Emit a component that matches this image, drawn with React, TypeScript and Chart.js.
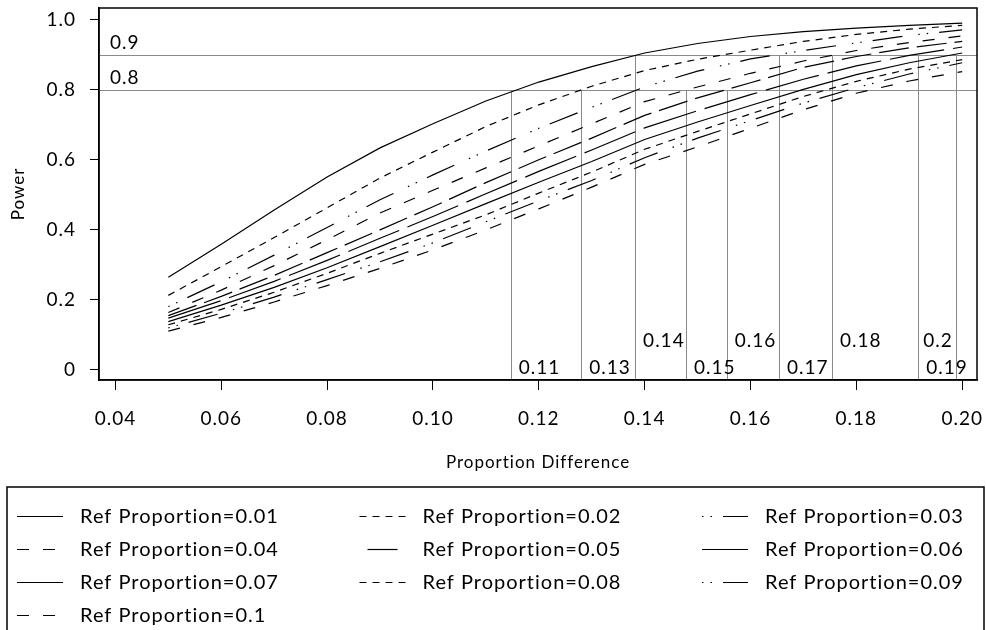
import React, { useEffect, useRef } from "react";
import { Chart, registerables } from "chart.js";

Chart.register(...registerables);

// ---- data ----
const proportionDiffs = [0.05, 0.06, 0.07, 0.08, 0.09, 0.1, 0.11, 0.12, 0.13, 0.14, 0.15, 0.16, 0.17, 0.18, 0.19, 0.2];

const powerRef001 = [0.265, 0.359, 0.457, 0.551, 0.634, 0.703, 0.768, 0.822, 0.866, 0.905, 0.932, 0.952, 0.966, 0.976, 0.984, 0.99];
const powerRef002 = [0.213, 0.295, 0.378, 0.463, 0.548, 0.622, 0.695, 0.757, 0.81, 0.855, 0.887, 0.913, 0.938, 0.958, 0.973, 0.984];
const powerRef003 = [0.181, 0.252, 0.328, 0.407, 0.486, 0.557, 0.625, 0.69, 0.75, 0.808, 0.853, 0.888, 0.912, 0.934, 0.955, 0.971];
const powerRef004 = [0.164, 0.228, 0.298, 0.372, 0.448, 0.513, 0.577, 0.64, 0.703, 0.766, 0.808, 0.847, 0.882, 0.912, 0.935, 0.954];
const powerRef005 = [0.155, 0.21, 0.27, 0.335, 0.4, 0.466, 0.535, 0.6, 0.662, 0.727, 0.777, 0.82, 0.864, 0.895, 0.92, 0.938];
const powerRef006 = [0.148, 0.198, 0.253, 0.313, 0.376, 0.438, 0.503, 0.567, 0.628, 0.691, 0.74, 0.786, 0.83, 0.868, 0.898, 0.922];
const powerRef007 = [0.138, 0.185, 0.236, 0.292, 0.352, 0.413, 0.475, 0.536, 0.595, 0.658, 0.708, 0.755, 0.801, 0.843, 0.877, 0.905];
const powerRef008 = [0.129, 0.173, 0.222, 0.276, 0.333, 0.388, 0.443, 0.505, 0.565, 0.63, 0.681, 0.731, 0.781, 0.824, 0.859, 0.886];
const powerRef009 = [0.12, 0.162, 0.208, 0.258, 0.309, 0.363, 0.423, 0.483, 0.541, 0.606, 0.662, 0.712, 0.762, 0.806, 0.845, 0.877];
const powerRef010 = [0.111, 0.15, 0.194, 0.241, 0.29, 0.343, 0.4, 0.46, 0.522, 0.587, 0.637, 0.69, 0.743, 0.79, 0.825, 0.852];

const seriesValues = [
  powerRef001, powerRef002, powerRef003, powerRef004, powerRef005,
  powerRef006, powerRef007, powerRef008, powerRef009, powerRef010,
];
const seriesLabels = [
  "Ref Proportion=0.01", "Ref Proportion=0.02", "Ref Proportion=0.03", "Ref Proportion=0.04", "Ref Proportion=0.05",
  "Ref Proportion=0.06", "Ref Proportion=0.07", "Ref Proportion=0.08", "Ref Proportion=0.09", "Ref Proportion=0.1",
];

const xTickValues = [0.04, 0.06, 0.08, 0.1, 0.12, 0.14, 0.16, 0.18, 0.2];
const xTickLabels = ["0.04", "0.06", "0.08", "0.10", "0.12", "0.14", "0.16", "0.18", "0.20"];
const yTickValues = [0, 0.2, 0.4, 0.6, 0.8, 1.0];
const yTickLabels = ["0", "0.2", "0.4", "0.6", "0.8", "1.0"];

const powerRefLevels = [0.9, 0.8];
const powerRefLabels = ["0.9", "0.8"];

const diffRefValues = [0.1147, 0.128, 0.1382, 0.1478, 0.1555, 0.1654, 0.1754, 0.1917, 0.1988];
const diffRefTops = [0.8, 0.8, 0.9, 0.8, 0.8, 0.9, 0.9, 0.9, 0.9];
const diffRefLabels = ["0.11", "0.13", "0.14", "0.15", "0.16", "0.17", "0.18", "0.19", "0.2"];

// ---- styles ----
const diffLabelUpperRow = [false, false, true, false, true, false, true, false, true];
const seriesDashes: number[][] = [
  [],
  [7, 6],
  [1.5, 7, 1.5, 11, 30, 16],
  [12, 14],
  [30, 8],
  [55, 9],
  [],
  [7, 6],
  [1.5, 7, 1.5, 11, 30, 16],
  [12, 14],
];
const legendDashOffsets = [0, 0, 0, 0, 30, 0, 0, 0, 0, 0];
const FONT = "Lato";
const REF_GRAY = "#8a8a8a";

const decorPlugin = {
  id: "decor",
  beforeDraw(chart: any) {
    try { chart.ctx.letterSpacing = "1px"; } catch (e) { /* ignore */ }
  },
  beforeDatasetsDraw(chart: any) {
    const { ctx, chartArea: a, scales } = chart;
    const x = scales.x;
    const y = scales.y;
    ctx.save();
    ctx.strokeStyle = REF_GRAY;
    ctx.lineWidth = 1;
    ctx.setLineDash([]);
    ctx.beginPath();
    powerRefLevels.forEach((v) => {
      const py = Math.round(y.getPixelForValue(v)) + 0.5;
      ctx.moveTo(a.left, py);
      ctx.lineTo(a.right, py);
    });
    diffRefValues.forEach((v, i) => {
      const px = Math.round(x.getPixelForValue(v)) + 0.5;
      ctx.moveTo(px, a.bottom);
      ctx.lineTo(px, Math.round(y.getPixelForValue(diffRefTops[i])) + 0.5);
    });
    ctx.stroke();

    ctx.fillStyle = "#000";
    ctx.font = `19px ${FONT}`;
    ctx.textBaseline = "middle";
    powerRefLevels.forEach((v, i) => {
      ctx.textAlign = "left";
      ctx.fillText(powerRefLabels[i], a.left + 11, y.getPixelForValue(v) - 12);
    });
    diffRefValues.forEach((v, i) => {
      const px = x.getPixelForValue(v);
      const label = diffRefLabels[i];
      const w = ctx.measureText(label).width;
      const py = diffLabelUpperRow[i] ? a.bottom - 39 : a.bottom - 12;
      if (px + 8 + w > a.right) {
        ctx.textAlign = "right";
        ctx.fillText(label, px - 3, py);
      } else {
        ctx.textAlign = "left";
        ctx.fillText(label, px + 8, py);
      }
    });
    ctx.restore();
  },
  afterDraw(chart: any) {
    const { ctx, chartArea: a } = chart;
    ctx.save();
    ctx.strokeStyle = "#000";
    ctx.lineWidth = 1.5;
    ctx.setLineDash([]);
    ctx.strokeRect(a.left, a.top, a.right - a.left, a.bottom - a.top);

    // legend box
    ctx.lineWidth = 1.5;
    ctx.strokeRect(7, 487, 977, 200);
    ctx.font = `20px ${FONT}`;
    ctx.textBaseline = "middle";
    ctx.textAlign = "left";
    ctx.fillStyle = "#000";
    seriesLabels.forEach((label, i) => {
      const col = i % 3;
      const row = Math.floor(i / 3);
      const tx = 80 + col * 342.5;
      const ty = 516 + row * 33;
      ctx.beginPath();
      ctx.lineWidth = 1.2;
      ctx.setLineDash(seriesDashes[i]);
      ctx.lineDashOffset = legendDashOffsets[i];
      ctx.moveTo(tx - 63, ty + 0.5);
      ctx.lineTo(tx - 17, ty + 0.5);
      ctx.stroke();
      ctx.setLineDash([]);
      ctx.lineDashOffset = 0;
      ctx.fillText(label, tx, ty + 1);
    });
    ctx.restore();
  },
};

export default function App() {
  const canvasRef = useRef<HTMLCanvasElement | null>(null);

  useEffect(() => {
    document.body.style.margin = "0";
    const canvas = canvasRef.current;
    if (!canvas) return;

    const datasets = seriesValues.map((vals, i) => ({
      label: seriesLabels[i],
      data: proportionDiffs.map((d, j) => ({ x: d, y: vals[j] })),
      borderColor: "#000",
      backgroundColor: "#000",
      borderWidth: 1.2,
      borderDash: seriesDashes[i],
      pointRadius: 0,
      tension: 0,
      fill: false,
    }));

    const tickFont = { family: FONT, size: 19 };
    const titleFont = { family: FONT, size: 17 };

    const chart = new Chart(canvas, {
      type: "line",
      data: { datasets },
      plugins: [decorPlugin],
      options: {
        responsive: false,
        animation: false,
        layout: { padding: { left: 0, top: 8, right: 9, bottom: 150 } },
        plugins: {
          legend: { display: false },
          tooltip: { enabled: false },
        },
        scales: {
          x: {
            type: "linear",
            min: 0.0369,
            max: 0.2028,
            afterBuildTicks: (s: any) => {
              s.ticks = xTickValues.map((v) => ({ value: v }));
            },
            afterFit: (s: any) => {
              s.height = 100;
              s.paddingLeft = 0;
              s.paddingRight = 0;
              s.paddingTop = 0;
              s.paddingBottom = 0;
            },
            ticks: {
              callback: (_v: any, i: number) => xTickLabels[i],
              font: tickFont,
              color: "#000",
              padding: 17,
              maxRotation: 0,
              autoSkip: false,
            },
            grid: {
              drawOnChartArea: false,
              drawTicks: true,
              tickLength: 10,
              color: "#000",
              tickColor: "#000",
              lineWidth: 1,
            },
            border: { display: true, color: "#000", width: 1.5 },
            title: {
              display: true,
              text: "Proportion Difference",
              font: titleFont,
              color: "#000",
              padding: { top: 0, bottom: 7 },
            },
          },
          y: {
            type: "linear",
            min: -0.0286,
            max: 1.0334,
            afterBuildTicks: (s: any) => {
              s.ticks = yTickValues.map((v) => ({ value: v }));
            },
            afterFit: (s: any) => {
              s.width = 99;
              s.paddingLeft = 0;
              s.paddingRight = 0;
              s.paddingTop = 0;
              s.paddingBottom = 0;
            },
            ticks: {
              callback: (_v: any, i: number) => yTickLabels[i],
              font: tickFont,
              color: "#000",
              padding: 14,
              autoSkip: false,
            },
            grid: {
              drawOnChartArea: false,
              drawTicks: true,
              tickLength: 9,
              color: "#000",
              tickColor: "#000",
              lineWidth: 1,
            },
            border: { display: true, color: "#000", width: 1.5 },
            title: {
              display: true,
              text: "Power",
              font: titleFont,
              color: "#000",
              padding: { top: 8, bottom: 0 },
            },
          },
        },
      } as any,
    });

    return () => {
      chart.destroy();
    };
  }, []);

  return (
    <div style={{ position: "absolute", left: 0, top: 0, width: 986, height: 630, background: "#fff" }}>
      <canvas ref={canvasRef} width={986} height={630} style={{ display: "block" }} />
    </div>
  );
}
